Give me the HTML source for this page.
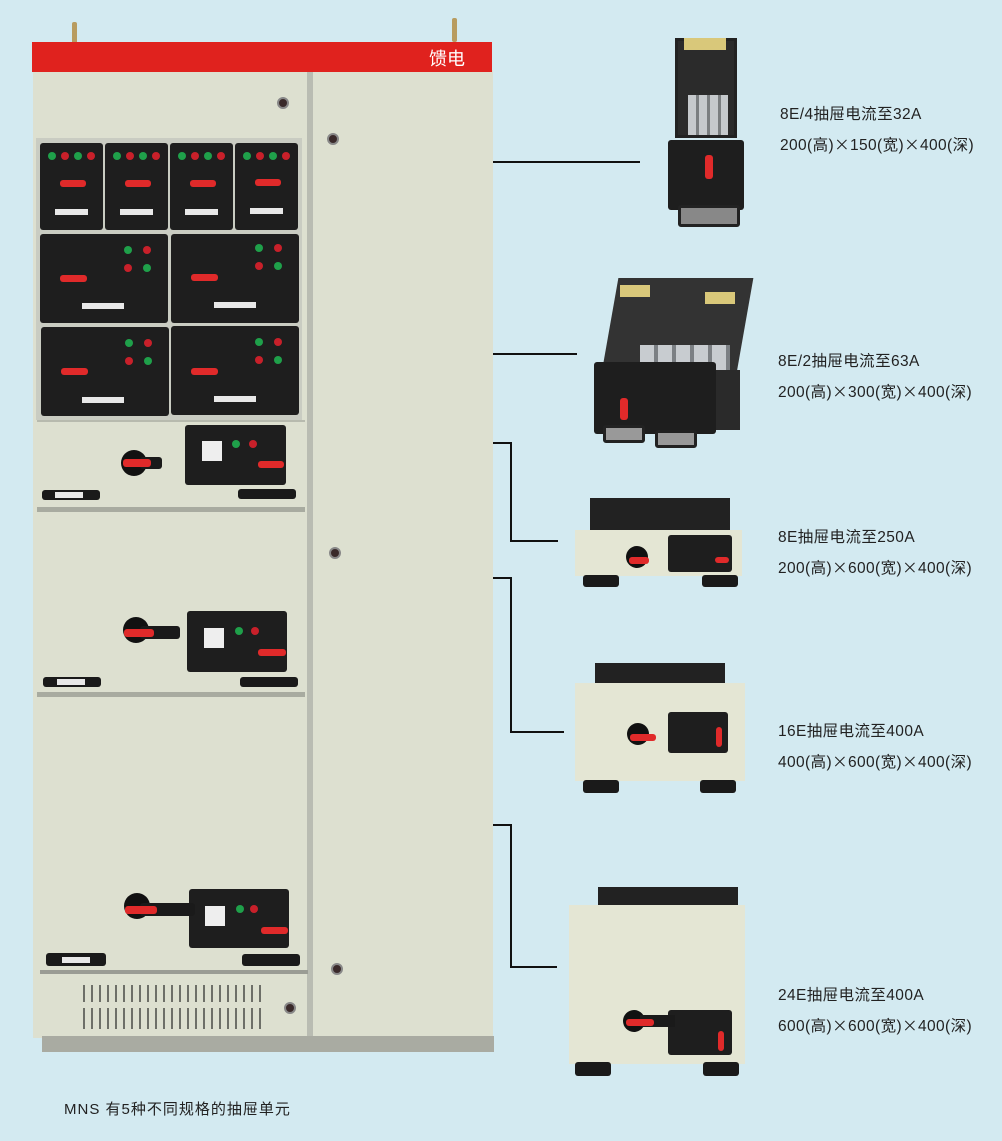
<!DOCTYPE html>
<html><head><meta charset="utf-8">
<style>
*{margin:0;padding:0;box-sizing:border-box}
body{width:1002px;height:1141px;background:#d3eaf1;position:relative;overflow:hidden;font-family:"Liberation Sans","Noto Sans CJK SC",sans-serif}
div{position:absolute}
.blk{background:#1e1e1e;border-radius:3px}
.g{width:8px;height:8px;border-radius:50%;background:#1fa04a}
.r{width:8px;height:8px;border-radius:50%;background:#c8202a}
.knob{width:26px;height:26px;border-radius:50%;background:#111}
.rh{background:#e02a2a;border-radius:3px}
.lab{background:#e8e8e8;height:6px}
.grip{background:#1a1a1a;border-radius:3px;height:10px}
.scr{width:12px;height:12px;border-radius:50%;background:#3a2a2a;border:2px solid #888}
.ln{background:#111}
.t{font-size:15.5px;color:#222;white-space:nowrap;line-height:1;letter-spacing:0.4px}
.x{font-family:"Noto Sans CJK SC",sans-serif}
.panel{background:#dde0d0}
</style></head><body>
<div style="left:72px;top:22px;width:5px;height:22px;background:#b89c60;border-radius:2px"></div>
<div style="left:452px;top:18px;width:5px;height:24px;background:#b89c60;border-radius:2px"></div>
<div class="panel" style="left:33px;top:70px;width:460px;height:968px"></div>
<div style="left:32px;top:42px;width:460px;height:30px;background:#e0221e"></div>
<div style="left:429px;top:45px;color:#fff;font-size:18px;font-family:'Noto Sans CJK SC',sans-serif">馈电</div>
<div style="left:307px;top:72px;width:6px;height:975px;background:#b9bcb2"></div>
<div style="left:42px;top:1036px;width:452px;height:16px;background:#a9aba2"></div>
<div class="scr" style="left:277px;top:97px"></div>
<div class="scr" style="left:327px;top:133px"></div>
<div class="scr" style="left:329px;top:547px"></div>
<div class="scr" style="left:331px;top:963px"></div>
<div class="scr" style="left:284px;top:1002px"></div>
<div style="left:36px;top:138px;width:266px;height:282px;background:#c9ccc2"></div>
<div class="blk" style="left:40px;top:143px;width:63px;height:87px"></div>
<div class="blk" style="left:105px;top:143px;width:63px;height:87px"></div>
<div class="blk" style="left:170px;top:143px;width:63px;height:87px"></div>
<div class="blk" style="left:235px;top:143px;width:63px;height:87px"></div>
<div class="g" style="left:48px;top:152px"></div><div class="r" style="left:61px;top:152px"></div><div class="g" style="left:74px;top:152px"></div><div class="r" style="left:87px;top:152px"></div>
<div class="g" style="left:113px;top:152px"></div><div class="r" style="left:126px;top:152px"></div><div class="g" style="left:139px;top:152px"></div><div class="r" style="left:152px;top:152px"></div>
<div class="g" style="left:178px;top:152px"></div><div class="r" style="left:191px;top:152px"></div><div class="g" style="left:204px;top:152px"></div><div class="r" style="left:217px;top:152px"></div>
<div class="g" style="left:243px;top:152px"></div><div class="r" style="left:256px;top:152px"></div><div class="g" style="left:269px;top:152px"></div><div class="r" style="left:282px;top:152px"></div>
<div class="rh" style="left:60px;top:180px;width:26px;height:7px"></div>
<div class="rh" style="left:125px;top:180px;width:26px;height:7px"></div>
<div class="rh" style="left:190px;top:180px;width:26px;height:7px"></div>
<div class="rh" style="left:255px;top:179px;width:26px;height:7px"></div>
<div class="lab" style="left:55px;top:209px;width:33px"></div>
<div class="lab" style="left:120px;top:209px;width:33px"></div>
<div class="lab" style="left:185px;top:209px;width:33px"></div>
<div class="lab" style="left:250px;top:208px;width:33px"></div>
<div class="blk" style="left:40px;top:234px;width:128px;height:89px"></div>
<div class="blk" style="left:171px;top:234px;width:128px;height:89px"></div>
<div class="g" style="left:124px;top:246px"></div><div class="r" style="left:143px;top:246px"></div><div class="r" style="left:124px;top:264px"></div><div class="g" style="left:143px;top:264px"></div>
<div class="g" style="left:255px;top:244px"></div><div class="r" style="left:274px;top:244px"></div><div class="r" style="left:255px;top:262px"></div><div class="g" style="left:274px;top:262px"></div>
<div class="rh" style="left:60px;top:275px;width:27px;height:7px"></div>
<div class="rh" style="left:191px;top:274px;width:27px;height:7px"></div>
<div class="lab" style="left:82px;top:303px;width:42px"></div>
<div class="lab" style="left:214px;top:302px;width:42px"></div>
<div class="blk" style="left:41px;top:327px;width:128px;height:89px"></div>
<div class="blk" style="left:171px;top:326px;width:128px;height:89px"></div>
<div class="g" style="left:125px;top:339px"></div><div class="r" style="left:144px;top:339px"></div><div class="r" style="left:125px;top:357px"></div><div class="g" style="left:144px;top:357px"></div>
<div class="g" style="left:255px;top:338px"></div><div class="r" style="left:274px;top:338px"></div><div class="r" style="left:255px;top:356px"></div><div class="g" style="left:274px;top:356px"></div>
<div class="rh" style="left:61px;top:368px;width:27px;height:7px"></div>
<div class="rh" style="left:191px;top:368px;width:27px;height:7px"></div>
<div class="lab" style="left:82px;top:397px;width:42px"></div>
<div class="lab" style="left:214px;top:396px;width:42px"></div>
<div style="left:37px;top:420px;width:268px;height:2px;background:#b7baae"></div>
<div class="blk" style="left:185px;top:425px;width:101px;height:60px"></div>
<div style="left:202px;top:441px;width:20px;height:20px;background:#eee"></div>
<div class="g" style="left:232px;top:440px"></div><div class="r" style="left:249px;top:440px"></div>
<div class="rh" style="left:258px;top:461px;width:26px;height:7px"></div>
<div class="knob" style="left:121px;top:450px"></div>
<div style="left:140px;top:457px;width:22px;height:12px;background:#1a1a1a;border-radius:3px"></div>
<div class="rh" style="left:123px;top:459px;width:28px;height:8px"></div>
<div class="grip" style="left:42px;top:490px;width:58px"></div><div class="lab" style="left:55px;top:492px;width:28px"></div>
<div class="grip" style="left:238px;top:489px;width:58px"></div>
<div style="left:37px;top:507px;width:268px;height:5px;background:#a8aba0"></div>
<div class="blk" style="left:187px;top:611px;width:100px;height:61px"></div>
<div style="left:204px;top:628px;width:20px;height:20px;background:#eee"></div>
<div class="g" style="left:235px;top:627px"></div><div class="r" style="left:251px;top:627px"></div>
<div class="rh" style="left:258px;top:649px;width:28px;height:7px"></div>
<div class="knob" style="left:123px;top:617px"></div>
<div style="left:140px;top:626px;width:40px;height:13px;background:#1a1a1a;border-radius:3px"></div>
<div class="rh" style="left:124px;top:629px;width:30px;height:8px"></div>
<div class="grip" style="left:43px;top:677px;width:58px"></div><div class="lab" style="left:57px;top:679px;width:28px"></div>
<div class="grip" style="left:240px;top:677px;width:58px"></div>
<div style="left:37px;top:692px;width:268px;height:5px;background:#a8aba0"></div>
<div class="blk" style="left:189px;top:889px;width:100px;height:59px"></div>
<div style="left:205px;top:906px;width:20px;height:20px;background:#eee"></div>
<div class="g" style="left:236px;top:905px"></div><div class="r" style="left:250px;top:905px"></div>
<div class="rh" style="left:261px;top:927px;width:27px;height:7px"></div>
<div class="knob" style="left:124px;top:893px"></div>
<div style="left:140px;top:903px;width:55px;height:13px;background:#1a1a1a;border-radius:3px"></div>
<div class="rh" style="left:125px;top:906px;width:32px;height:8px"></div>
<div class="grip" style="left:46px;top:953px;width:60px;height:13px"></div><div class="lab" style="left:62px;top:957px;width:28px"></div>
<div class="grip" style="left:242px;top:954px;width:58px;height:12px"></div>
<div style="left:40px;top:970px;width:268px;height:4px;background:#9a9c94"></div>
<div style="left:83px;top:985px;width:183px;height:17px;background:repeating-linear-gradient(90deg,#6d6f68 0 2px,transparent 2px 8px)"></div>
<div style="left:83px;top:1008px;width:183px;height:21px;background:repeating-linear-gradient(90deg,#6d6f68 0 2px,transparent 2px 8px)"></div>

<div class="ln" style="left:493px;top:161px;width:147px;height:2px"></div>
<div class="ln" style="left:493px;top:353px;width:84px;height:2px"></div>
<div class="ln" style="left:493px;top:442px;width:19px;height:2px"></div>
<div class="ln" style="left:510px;top:442px;width:2px;height:100px"></div>
<div class="ln" style="left:510px;top:540px;width:48px;height:2px"></div>
<div class="ln" style="left:493px;top:577px;width:19px;height:2px"></div>
<div class="ln" style="left:510px;top:577px;width:2px;height:156px"></div>
<div class="ln" style="left:510px;top:731px;width:54px;height:2px"></div>
<div class="ln" style="left:493px;top:824px;width:19px;height:2px"></div>
<div class="ln" style="left:510px;top:824px;width:2px;height:144px"></div>
<div class="ln" style="left:510px;top:966px;width:47px;height:2px"></div>

<div style="left:675px;top:38px;width:62px;height:100px;background:#2b2b2b;border:3px solid #222"></div>
<div style="left:684px;top:38px;width:42px;height:12px;background:#d9c87a"></div>
<div style="left:688px;top:95px;width:40px;height:40px;background:repeating-linear-gradient(90deg,#c5c9cc 0 8px,#7a7e80 8px 11px)"></div>
<div style="left:668px;top:140px;width:76px;height:70px;background:#1e1e1e;border-radius:3px"></div>
<div class="rh" style="left:705px;top:155px;width:8px;height:24px"></div>
<div style="left:678px;top:205px;width:62px;height:22px;border:3px solid #222;background:#888;border-radius:3px"></div>
<div style="left:610px;top:278px;width:135px;height:95px;background:#333;transform:skewX(-10deg)"></div>
<div style="left:620px;top:285px;width:30px;height:12px;background:#d9c87a"></div>
<div style="left:705px;top:292px;width:30px;height:12px;background:#d9c87a"></div>
<div style="left:640px;top:345px;width:90px;height:30px;background:repeating-linear-gradient(90deg,#c8ccd0 0 14px,#7c8084 14px 18px)"></div>
<div style="left:594px;top:362px;width:122px;height:72px;background:#1e1e1e;border-radius:3px"></div>
<div style="left:716px;top:370px;width:24px;height:60px;background:#2a2a2a"></div>
<div class="rh" style="left:620px;top:398px;width:8px;height:22px"></div>
<div style="left:603px;top:425px;width:42px;height:18px;border:3px solid #222;background:#999;border-radius:3px"></div>
<div style="left:655px;top:430px;width:42px;height:18px;border:3px solid #222;background:#999;border-radius:3px"></div>
<div style="left:590px;top:498px;width:140px;height:34px;background:#222"></div>
<div style="left:575px;top:530px;width:167px;height:46px;background:#e4e6d4"></div>
<div class="blk" style="left:668px;top:535px;width:64px;height:37px"></div>
<div class="knob" style="left:626px;top:546px;width:22px;height:22px"></div>
<div class="rh" style="left:629px;top:557px;width:20px;height:7px"></div>
<div class="rh" style="left:715px;top:557px;width:14px;height:6px"></div>
<div class="grip" style="left:583px;top:575px;width:36px;height:12px"></div>
<div class="grip" style="left:702px;top:575px;width:36px;height:12px"></div>
<div style="left:595px;top:663px;width:130px;height:22px;background:#222"></div>
<div style="left:575px;top:683px;width:170px;height:98px;background:#e4e6d4"></div>
<div class="blk" style="left:668px;top:712px;width:60px;height:41px"></div>
<div class="knob" style="left:627px;top:723px;width:22px;height:22px"></div>
<div class="rh" style="left:630px;top:734px;width:26px;height:7px"></div>
<div class="rh" style="left:716px;top:727px;width:6px;height:20px"></div>
<div class="grip" style="left:583px;top:780px;width:36px;height:13px"></div>
<div class="grip" style="left:700px;top:780px;width:36px;height:13px"></div>
<div style="left:598px;top:887px;width:140px;height:20px;background:#222"></div>
<div style="left:569px;top:905px;width:176px;height:159px;background:#e4e6d4"></div>
<div class="blk" style="left:668px;top:1010px;width:64px;height:45px"></div>
<div class="knob" style="left:623px;top:1010px;width:22px;height:22px"></div>
<div style="left:640px;top:1015px;width:35px;height:12px;background:#1a1a1a"></div>
<div class="rh" style="left:626px;top:1019px;width:28px;height:7px"></div>
<div class="rh" style="left:718px;top:1031px;width:6px;height:20px"></div>
<div class="grip" style="left:575px;top:1062px;width:36px;height:14px"></div>
<div class="grip" style="left:703px;top:1062px;width:36px;height:14px"></div>

<div class="t" style="left:780px;top:107px">8E/4抽屉电流至32A</div>
<div class="t" style="left:780px;top:137px">200(高)<span class="x">×</span>150(宽)<span class="x">×</span>400(深)</div>
<div class="t" style="left:778px;top:354px">8E/2抽屉电流至63A</div>
<div class="t" style="left:778px;top:384px">200(高)<span class="x">×</span>300(宽)<span class="x">×</span>400(深)</div>
<div class="t" style="left:778px;top:530px">8E抽屉电流至250A</div>
<div class="t" style="left:778px;top:560px">200(高)<span class="x">×</span>600(宽)<span class="x">×</span>400(深)</div>
<div class="t" style="left:778px;top:724px">16E抽屉电流至400A</div>
<div class="t" style="left:778px;top:754px">400(高)<span class="x">×</span>600(宽)<span class="x">×</span>400(深)</div>
<div class="t" style="left:778px;top:988px">24E抽屉电流至400A</div>
<div class="t" style="left:778px;top:1018px">600(高)<span class="x">×</span>600(宽)<span class="x">×</span>400(深)</div>
<div class="t" style="left:64px;top:1102px;font-size:15px;letter-spacing:1px">MNS 有5种不同规格的抽屉单元</div>
</body></html>
